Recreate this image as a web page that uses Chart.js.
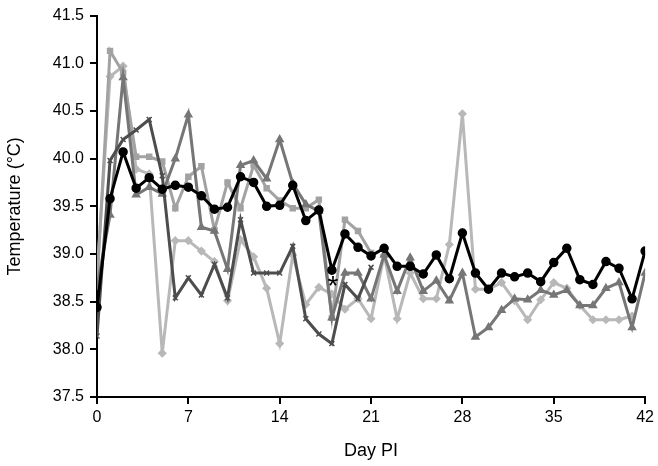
<!DOCTYPE html>
<html>
<head>
<meta charset="utf-8">
<script src="https://cdn.jsdelivr.net/npm/chart.js@4.4.1/dist/chart.umd.min.js"></script>
<style>
  html, body { margin: 0; padding: 0; background: #fff; }
  #wrap { width: 658px; height: 466px; }
</style>
</head>
<body>
<div id="wrap"><canvas id="tempChart" width="658" height="466"></canvas></div>
<script>
const days = [0,1,2,3,4,5,6,7,8,9,10,11,12,13,14,15,16,17,18,19,20,21,22,23,24,25,26,27,28,29,30,31,32,33,34,35,36,37,38,39,40,41,42];
const xTicks = [0,7,14,21,28,35,42];

// mean (black circles)
const meanTemp = [38.44,39.58,40.07,39.69,39.80,39.68,39.72,39.70,39.61,39.47,39.49,39.81,39.75,39.50,39.51,39.72,39.35,39.46,38.83,39.21,39.07,38.98,39.06,38.87,38.87,38.79,38.99,38.74,39.22,38.80,38.63,38.80,38.76,38.80,38.71,38.91,39.06,38.73,38.68,38.92,38.85,38.53,39.03];
// light grey diamonds
const diamondTemp = [38.78,40.86,40.97,39.89,39.84,37.96,39.14,39.14,39.03,38.92,38.51,39.15,38.97,38.64,38.06,38.99,38.47,38.65,38.58,38.42,38.53,38.32,38.99,38.32,38.80,38.53,38.53,39.10,40.47,38.63,38.63,38.70,38.51,38.31,38.52,38.70,38.64,38.46,38.31,38.31,38.31,38.35];
// grey squares
const squareTemp = [38.68,41.13,40.90,40.02,40.02,39.97,39.48,39.81,39.92,39.25,39.75,39.48,39.93,39.69,39.56,39.48,39.48,39.57,38.33,39.36,39.24,39.01];
// mid grey triangles
const triangleTemp = [38.65,39.41,40.85,39.62,39.70,39.63,40.00,40.46,39.28,39.24,38.84,39.93,39.98,39.79,40.20,39.74,39.52,39.45,38.33,38.80,38.80,38.53,38.99,38.61,38.96,38.61,38.72,38.51,38.80,38.13,38.23,38.41,38.53,38.52,38.62,38.57,38.62,38.46,38.46,38.64,38.70,38.23,38.80];
// dark grey crosses
const crossTemp = [38.14,39.98,40.20,40.30,40.41,39.82,38.54,38.75,38.57,38.89,38.54,39.36,38.80,38.80,38.80,39.08,38.32,38.16,38.06,38.68,38.53,38.86];

// significance mark
const starDay = 18;
const starTemp = 38.70;

function toPoints(values) {
    return values.map((v, i) => ({ x: days[i], y: v }));
}

function series(label, values, color, style, radius, order) {
    return {
        label: label,
        data: toPoints(values),
        borderColor: color,
        backgroundColor: color,
        pointBorderColor: color,
        pointBackgroundColor: color,
        pointStyle: style,
        pointRadius: radius,
        pointBorderWidth: 1.5,
        borderWidth: 3,
        tension: 0,
        order: order
    };
}

const starPlugin = {
    id: 'starMark',
    afterDatasetsDraw(chart) {
        const ctx = chart.ctx;
        const x = chart.scales.x.getPixelForValue(starDay);
        const y = chart.scales.y.getPixelForValue(starTemp);
        ctx.save();
        ctx.fillStyle = '#000';
        ctx.font = '28px "Liberation Sans", Arial, sans-serif';
        ctx.textAlign = 'center';
        ctx.textBaseline = 'middle';
        ctx.fillText('*', x + 1, y + 5);
        ctx.restore();
    }
};

const axisFont = '"Liberation Sans", Arial, sans-serif';

new Chart(document.getElementById('tempChart'), {
    type: 'line',
    data: {
        datasets: [
            series('Mean', meanTemp, '#000000', 'circle', 4, 0),
            series('Pig 1', crossTemp, '#4d4d4d', 'crossRot', 3.5, 1),
            series('Pig 2', triangleTemp, '#767676', 'triangle', 4, 2),
            series('Pig 3', squareTemp, '#a2a2a2', 'rect', 3.5, 3),
            series('Pig 4', diamondTemp, '#b8b8b8', 'rectRot', 3.5, 4)
        ]
    },
    options: {
        responsive: false,
        animation: false,
        layout: { padding: { top: 12, right: 12, left: 0, bottom: 0 } },
        plugins: {
            legend: { display: false },
            tooltip: { enabled: false }
        },
        scales: {
            x: {
                type: 'linear',
                min: 0,
                max: 42,
                afterBuildTicks: (scale) => { scale.ticks = xTicks.map(v => ({ value: v })); },
                afterFit: (scale) => { scale.height = 69; },
                ticks: {
                    color: '#000',
                    font: { family: axisFont, size: 16 },
                    padding: 4,
                    maxRotation: 0
                },
                grid: { display: true, drawOnChartArea: false, drawTicks: true, tickLength: 7, color: '#000', lineWidth: 2 },
                border: { color: '#000', width: 2 },
                title: {
                    display: true,
                    text: 'Day PI',
                    color: '#000',
                    font: { family: axisFont, size: 18 },
                    padding: { top: 8 }
                }
            },
            y: {
                min: 37.5,
                max: 41.5,
                afterFit: (scale) => { scale.width = 97; },
                ticks: {
                    stepSize: 0.5,
                    color: '#000',
                    font: { family: axisFont, size: 16 },
                    padding: 6,
                    callback: (v) => v.toFixed(1)
                },
                grid: { display: true, drawOnChartArea: false, drawTicks: true, tickLength: 7, color: '#000', lineWidth: 2 },
                border: { color: '#000', width: 2 },
                title: {
                    display: true,
                    text: 'Temperature (°C)',
                    color: '#000',
                    font: { family: axisFont, size: 18 },
                    padding: { bottom: 4 }
                }
            }
        }
    },
    plugins: [starPlugin]
});
</script>
</body>
</html>
